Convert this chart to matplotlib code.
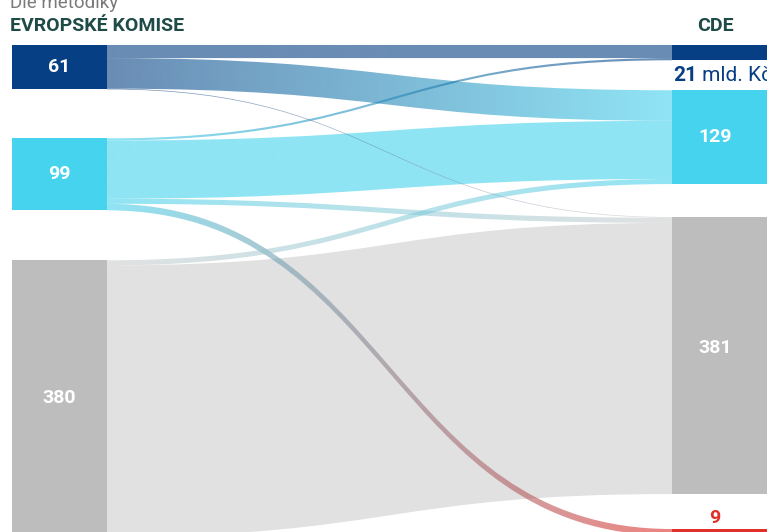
import numpy as np
import matplotlib
matplotlib.use("Agg")
import matplotlib.pyplot as plt
from matplotlib.path import Path
from matplotlib.patches import PathPatch, Rectangle
from matplotlib.colors import to_rgb

plt.rcParams['font.family'] = ['Roboto', 'DejaVu Sans']

# --- data ---
left_names = ["61", "99", "380"]
right_names = ["CDE", "129", "381", "9"]
# flows: rows = left nodes, columns = right nodes (mld. Kč)
flows_61 = [18, 42, 1, 0]
flows_99 = [3, 80, 7, 9]
flows_380 = [0, 7, 373, 0]
flows = np.array([flows_61, flows_99, flows_380])

left_vals = flows.sum(axis=1)
right_vals = flows.sum(axis=0)

# --- style / layout ---
left_colors = ["#063f84", "#45d3ee", "#bdbdbd"]
right_colors = ["#063f84", "#45d3ee", "#bdbdbd", "#e0302a"]
left_alpha = [0.6, 0.6, 0.45]
right_alpha = [0.6, 0.6, 0.45, 0.6]
heading = "#1e4b47"

W, H = 767, 532
scale = 0.727          # px per unit
top = 45
left_gaps = [49, 50]
right_gaps = [30, 33, 35]
lx0, lx1 = 12, 107
rx0, rx1 = 672, 767
r_label_x = 715

fig = plt.figure(figsize=(W / 100, H / 100), dpi=100)
ax = fig.add_axes([0, 0, 1, 1])
ax.set_xlim(0, W)
ax.set_ylim(H, 0)
ax.axis('off')
ax.set_autoscale_on(False)


def stack(vals, gaps):
    ys, y = [], top
    for i, v in enumerate(vals):
        ys.append(y)
        y += v * scale
        if i < len(gaps):
            y += gaps[i]
    return ys


left_y = stack(left_vals, left_gaps)
right_y = stack(right_vals, right_gaps)


def band(x0, x1, s_top, s_bot, t_top, t_bot, c0, c1, a0, a1, z):
    xm = (x0 + x1) / 2
    verts = [(x0, s_top), (xm, s_top), (xm, t_top), (x1, t_top),
             (x1, t_bot), (xm, t_bot), (xm, s_bot), (x0, s_bot), (x0, s_top)]
    codes = [Path.MOVETO, Path.CURVE4, Path.CURVE4, Path.CURVE4,
             Path.LINETO, Path.CURVE4, Path.CURVE4, Path.CURVE4, Path.CLOSEPOLY]
    path = Path(verts, codes)
    patch = PathPatch(path, facecolor='none', edgecolor='none')
    ax.add_patch(patch)
    n = 256
    t = np.linspace(0, 1, n)[:, None]
    rgb = (1 - t) * np.array(to_rgb(c0)) + t * np.array(to_rgb(c1))
    alpha = (1 - t) * a0 + t * a1
    img = np.concatenate([rgb, alpha], axis=1)[None, :, :]
    ymin = min(s_top, t_top) - 1
    ymax = max(s_bot, t_bot) + 1
    im = ax.imshow(img, extent=(x0, x1, ymax, ymin), aspect='auto',
                   interpolation='bilinear', zorder=z)
    im.set_clip_path(patch)


# offsets of outgoing / incoming flows inside each node
out_off = list(left_y)
in_off = list(right_y)
links = []
for i in range(flows.shape[0]):
    for j in range(flows.shape[1]):
        v = flows[i, j]
        if v == 0:
            continue
        s0 = out_off[i]
        out_off[i] += v * scale
        links.append((v, i, j, s0, out_off[i]))
targets = {}
for j in range(flows.shape[1]):
    for i in range(flows.shape[0]):
        v = flows[i, j]
        if v == 0:
            continue
        t0 = in_off[j]
        in_off[j] += v * scale
        targets[(i, j)] = (t0, in_off[j])

# draw larger bands first, thin ones on top
for k, (v, i, j, s0, s1) in enumerate(sorted(links, key=lambda l: -l[0])):
    t0, t1 = targets[(i, j)]
    band(lx1, rx0, s0, s1, t0, t1, left_colors[i], right_colors[j],
         left_alpha[i], right_alpha[j], 2 + k * 0.01)

# nodes
for i, v in enumerate(left_vals):
    ax.add_patch(Rectangle((lx0, left_y[i]), lx1 - lx0, v * scale,
                           facecolor=left_colors[i], edgecolor='none', zorder=5))
    ax.text((lx0 + lx1) / 2, left_y[i] + v * scale / 2, f"{v}", color='white',
            fontsize=14, fontweight='bold', ha='center', va='center', zorder=6)

for j, v in enumerate(right_vals):
    ax.add_patch(Rectangle((rx0, right_y[j]), rx1 - rx0, v * scale,
                           facecolor=right_colors[j], edgecolor='none', zorder=5))
for j in (1, 2):
    v = right_vals[j]
    ax.text(r_label_x, right_y[j] + v * scale / 2 - (8 if j == 2 else 0),
            f"{v}", color='white', fontsize=14, fontweight='bold',
            ha='center', va='center', zorder=6)

# small node 9: label above
ax.text(r_label_x, right_y[3] - 6, f"{right_vals[3]}", color=right_colors[3],
        fontsize=14, fontweight='bold', ha='center', va='baseline', zorder=6)

# CDE value label below the node
t21 = ax.text(rx0 + 1, right_y[0] + right_vals[0] * scale + 21, f"{right_vals[0]}",
              color=right_colors[0], fontsize=15, fontweight='bold',
              ha='left', va='baseline', zorder=6)
ax.annotate(" mld. Kč", xy=(1, 0), xycoords=t21, va='bottom', ha='left',
            color=right_colors[0], fontsize=15, zorder=6)

# headings
ax.text(10, 8, "Dle metodiky", color='#7a7a7a', fontsize=13.5, va='baseline', ha='left')
ax.text(10, 31, "EVROPSKÉ KOMISE", color=heading, fontsize=14, fontweight='bold',
        va='baseline', ha='left')
ax.text(r_label_x, 31, "CDE", color=heading, fontsize=14, fontweight='bold',
        va='baseline', ha='center')

fig.savefig("out.png", dpi=100, facecolor='white')
